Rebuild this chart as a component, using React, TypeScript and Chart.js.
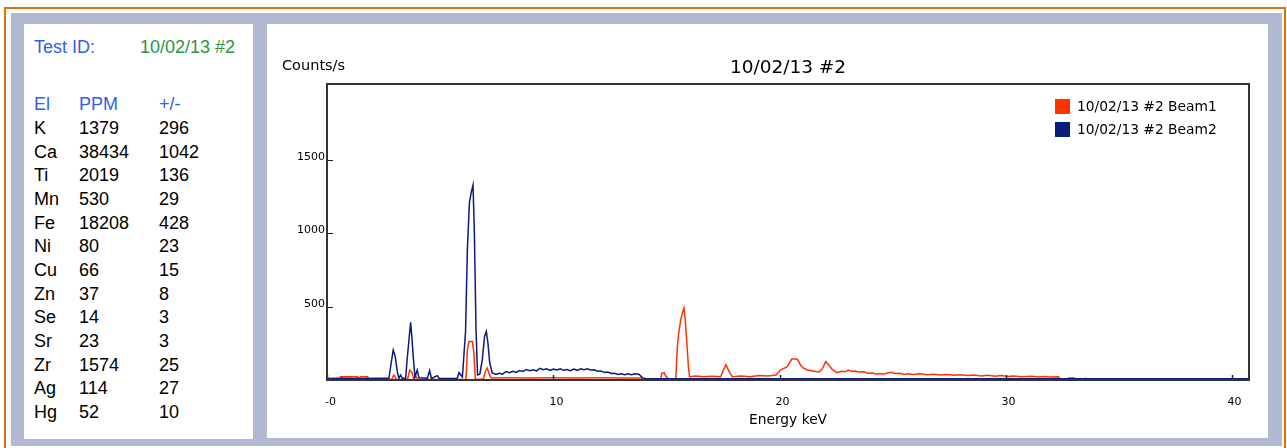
import React, { useEffect, useRef } from "react";
import { Chart, registerables } from "chart.js";

Chart.register(...registerables);

// ---------- Left panel data ----------
const testId = "10/02/13 #2";
const elements = ["K", "Ca", "Ti", "Mn", "Fe", "Ni", "Cu", "Zn", "Se", "Sr", "Zr", "Ag", "Hg"];
const ppmValues = ["1379", "38434", "2019", "530", "18208", "80", "66", "37", "14", "23", "1574", "114", "52"];
const errValues = ["296", "1042", "136", "29", "428", "23", "15", "8", "3", "3", "25", "27", "10"];

// ---------- Chart data ----------
const chartTitle = "10/02/13 #2";
const yAxisLabel = "Counts/s";
const xAxisLabel = "Energy keV";
const seriesNames = ["10/02/13 #2 Beam1", "10/02/13 #2 Beam2"];
const seriesColors = ["#ff3300", "#0a1c7c"];

const beam1Energy = [
  -0.02, 0.56, 0.58, 1.33, 1.35, 1.47, 1.78, 1.8, 2.84, 2.94, 3.06, 3.54, 3.64, 3.74, 3.82, 3.9, 4.0,
  6.13, 6.19, 6.26, 6.41, 6.48, 6.54, 6.89, 6.99, 7.07, 7.16, 7.24, 8.0, 9.0, 10.0, 11.0, 12.0, 13.0, 13.9, 13.95,
  14.74, 14.79, 14.9, 14.94, 15.1, 15.41, 15.48, 15.54, 15.63, 15.7, 15.77, 15.83, 15.89, 15.97, 16.02,
  16.3, 16.6, 17.0, 17.4, 17.51, 17.63, 17.77, 17.91, 18.3, 18.7, 19.1, 19.5, 19.85, 20.04, 20.34, 20.54, 20.64,
  20.79, 20.94, 21.04, 21.24, 21.54, 21.74, 21.89, 22.04, 22.19, 22.34,
  22.54, 22.74, 22.9, 23.04, 23.2, 23.34, 23.5, 23.74, 23.9, 24.14, 24.3, 24.44, 24.6, 24.74, 24.94,
  25.1, 25.34, 25.5, 25.7, 25.94, 26.2, 26.54, 26.8, 27.14, 27.4, 27.74, 28.0, 28.34, 28.6, 28.94,
  29.2, 29.54, 29.8, 30.1, 30.34, 30.7, 31.14, 31.5, 31.74, 32.0, 32.34,
  32.44, 32.74, 32.79, 33.04, 33.09, 33.49, 33.54, 33.64, 40.8,
];
const beam1Counts = [
  3, 3, 23, 23, 5, 23, 23, 3, 3, 34, 3, 3, 68, 50, 3, 30, 3,
  5, 205, 262, 262, 185, 5, 5, 60, 82, 40, 14, 15, 14, 15, 14, 15, 14, 13, 2,
  2, 46, 50, 34, 2, 10, 228, 320, 411, 457, 491, 411, 274, 91, 23,
  28, 22, 25, 22, 68, 103, 57, 23, 27, 23, 30, 27, 34, 68, 91, 143, 144,
  142, 100, 82, 68, 60, 55, 75, 125, 100, 70,
  50, 60, 56, 68, 58, 62, 54, 56, 46, 48, 40, 44, 40, 46, 52,
  44, 46, 38, 42, 38, 42, 36, 40, 34, 38, 32, 36, 30, 34, 28,
  32, 26, 30, 24, 28, 22, 26, 20, 24, 20, 22,
  3, 3, 14, 14, 3, 3, 12, 3, 3,
];

const beam2Energy = [
  -0.02, 0.6, 1.4, 2.2, 2.72, 2.82, 2.91, 3.0, 3.09, 3.16, 3.24, 3.31, 3.46, 3.53, 3.62, 3.68, 3.74, 3.8,
  3.87, 3.97, 4.05, 4.42, 4.52, 4.6, 4.86, 4.95, 5.74, 5.82, 5.97, 6.11, 6.19, 6.28, 6.36, 6.44, 6.5, 6.57,
  6.64, 6.74, 6.85, 6.95, 7.03, 7.1, 7.18, 7.29,
  7.45, 7.6, 7.75, 7.9, 8.05, 8.2, 8.35, 8.5, 8.65, 8.8, 8.95, 9.1, 9.25, 9.4, 9.55, 9.7, 9.85,
  10.0, 10.15, 10.3, 10.45, 10.6, 10.75, 10.9, 11.05, 11.2, 11.35, 11.5, 11.65, 11.8, 11.95,
  12.1, 12.25, 12.4, 12.55, 12.7, 12.85, 13.0, 13.15, 13.3, 13.45, 13.6, 13.78, 13.93, 14.08, 40.8,
];
const beam2Counts = [
  10, 12, 10, 12, 12, 116, 205, 160, 57, 12, 34, 12, 12, 148, 297, 393, 282, 148,
  20, 68, 15, 12, 65, 10, 30, 10, 12, 50, 20, 331, 890, 1210, 1280, 1330, 1006, 365,
  34, 40, 137, 297, 331, 251, 116, 48,
  38, 46, 40, 58, 50, 60, 52, 64, 58, 72, 64, 70, 62, 80, 70, 76, 66,
  74, 68, 76, 66, 72, 64, 74, 66, 76, 70, 76, 68, 70, 60,
  62, 52, 54, 44, 46, 38, 42, 36, 42, 36, 42, 39, 16, 8, 8,
];

const xTickValues = [0, 10, 20, 30, 40];
const xTickLabels = ["-0", "10", "20", "30", "40"];
const yTickValues = [500, 1000, 1500];

const chartFont = '"DejaVu Sans", Verdana, sans-serif';
const panelFont = '"Liberation Sans", Arial, sans-serif';

const framePlugin = {
  id: "frame",
  afterDatasetsDraw(chart: any) {
    const { ctx, chartArea: a, scales } = chart;
    ctx.save();
    ctx.strokeStyle = "#222";
    ctx.lineWidth = 1;
    for (const v of yTickValues) {
      const y = Math.round(scales.y.getPixelForValue(v)) + 0.5;
      ctx.beginPath();
      ctx.moveTo(a.left, y);
      ctx.lineTo(a.left + 6, y);
      ctx.stroke();
    }
    ctx.lineWidth = 1.5;
    for (const v of xTickValues) {
      const x = Math.round(scales.x.getPixelForValue(v)) + 0.5;
      ctx.beginPath();
      ctx.moveTo(x, a.bottom);
      ctx.lineTo(x, a.bottom - 5);
      ctx.stroke();
    }
    ctx.strokeStyle = "#333";
    ctx.lineWidth = 2;
    ctx.strokeRect(a.left, a.top, a.right - a.left, a.bottom - a.top);
    ctx.restore();
  },
  afterDraw(chart: any) {
    const { ctx, chartArea: a } = chart;
    ctx.save();
    ctx.fillStyle = "#000";
    ctx.textBaseline = "middle";
    ctx.textAlign = "center";
    ctx.font = `18.5px ${chartFont}`;
    ctx.fillText(chartTitle, (a.left + a.right) / 2, a.top - 16);
    ctx.textAlign = "left";
    ctx.font = `14.5px ${chartFont}`;
    ctx.fillText(yAxisLabel, a.left - 45, a.top - 18);
    ctx.font = `13.8px ${chartFont}`;
    chart.data.datasets.forEach((ds: any, i: number) => {
      const bx = a.right - 194;
      const by = a.top + 15 + i * 23;
      ctx.fillStyle = ds.borderColor;
      ctx.fillRect(bx, by, 15, 15);
      ctx.fillStyle = "#000";
      ctx.fillText(ds.label, bx + 22, by + 8);
    });
    ctx.restore();
  },
};

function SpectrumChart() {
  const ref = useRef<HTMLCanvasElement>(null);
  useEffect(() => {
    const chart = new Chart(ref.current as HTMLCanvasElement, {
      type: "line",
      data: {
        datasets: [
          {
            label: seriesNames[0],
            data: beam1Energy.map((x, i) => ({ x, y: beam1Counts[i] })),
            borderColor: seriesColors[0],
            backgroundColor: seriesColors[0],
            borderWidth: 1.5,
            pointRadius: 0,
            tension: 0,
            fill: false,
            order: 1,
          },
          {
            label: seriesNames[1],
            data: beam2Energy.map((x, i) => ({ x, y: beam2Counts[i] })),
            borderColor: seriesColors[1],
            backgroundColor: seriesColors[1],
            borderWidth: 1.5,
            pointRadius: 0,
            tension: 0,
            fill: false,
            order: 0,
          },
        ],
      },
      options: {
        animation: false,
        responsive: false,
        maintainAspectRatio: false,
        devicePixelRatio: 1,
        layout: { padding: { left: 0, top: 60, right: 19, bottom: 0 } },
        plugins: {
          legend: { display: false },
          tooltip: { enabled: false },
          title: { display: false },
        },
        scales: {
          x: {
            type: "linear",
            min: -0.02,
            max: 40.77,
            afterFit: (s: any) => {
              s.height = 58;
            },
            afterBuildTicks: (s: any) => {
              s.ticks = xTickValues.map((v) => ({ value: v }));
            },
            ticks: {
              autoSkip: false,
              maxRotation: 0,
              padding: 16,
              labelOffset: 3,
              color: "#000",
              font: { family: chartFont, size: 11 },
              callback: (_v: any, i: number) => xTickLabels[i],
            },
            title: {
              display: true,
              text: xAxisLabel,
              color: "#000",
              font: { family: chartFont, size: 13.8 },
              padding: { top: 0, bottom: 9 },
            },
            grid: { display: false, drawTicks: false },
            border: { display: false },
          },
          y: {
            type: "linear",
            min: 0,
            max: 2020,
            afterFit: (s: any) => {
              s.width = 60;
            },
            afterBuildTicks: (s: any) => {
              s.ticks = yTickValues.map((v) => ({ value: v }));
            },
            ticks: {
              padding: 2,
              labelOffset: -3,
              color: "#000",
              font: { family: chartFont, size: 11 },
              callback: (v: any) => String(v),
            },
            grid: { display: false, drawTicks: false },
            border: { display: false },
          },
        },
      },
      plugins: [framePlugin],
    } as any);
    return () => chart.destroy();
  }, []);
  return <canvas ref={ref} width={1001} height={414} style={{ display: "block", width: 1001, height: 414 }} />;
}

const blueText = "#2f5ff0";
const greenText = "#2a9640";

function Txt({ x, y, color, children }: { x: number; y: number; color: string; children: React.ReactNode }) {
  return (
    <div
      style={{
        position: "absolute",
        left: x,
        top: y - 10,
        height: 20,
        lineHeight: "20px",
        font: `18px ${panelFont}`,
        color,
        whiteSpace: "nowrap",
      }}
    >
      {children}
    </div>
  );
}

export default function App() {
  return (
    <div style={{ position: "absolute", left: 0, top: 0, width: 1287, height: 448, overflow: "hidden", background: "#fff" }}>
      <div style={{ position: "absolute", left: 4, top: 7, width: 1278, height: 450, border: "2px solid #d9730d" }} />
      <div style={{ position: "absolute", left: 11, top: 13, width: 1271, height: 433, background: "#b3b9d3" }} />
      <div style={{ position: "absolute", left: 24, top: 24, width: 229, height: 415, background: "#fff" }}>
        <div style={{ position: "absolute", left: -24, top: -24 }}>
          <Txt x={34} y={47} color={blueText}>Test ID:</Txt>
          <Txt x={140} y={47} color={greenText}>{testId}</Txt>
          <Txt x={34} y={104} color={blueText}>El</Txt>
          <Txt x={79} y={104} color={blueText}>PPM</Txt>
          <Txt x={159} y={104} color={blueText}>+/-</Txt>
          {elements.map((el, i) => {
            const y = 128 + i * 23.67;
            return (
              <React.Fragment key={el}>
                <Txt x={34} y={y} color="#000">{el}</Txt>
                <Txt x={79} y={y} color="#000">{ppmValues[i]}</Txt>
                <Txt x={159} y={y} color="#000">{errValues[i]}</Txt>
              </React.Fragment>
            );
          })}
        </div>
      </div>
      <div style={{ position: "absolute", left: 267, top: 24, width: 1001, height: 414, background: "#fff" }}>
        <SpectrumChart />
      </div>
    </div>
  );
}
